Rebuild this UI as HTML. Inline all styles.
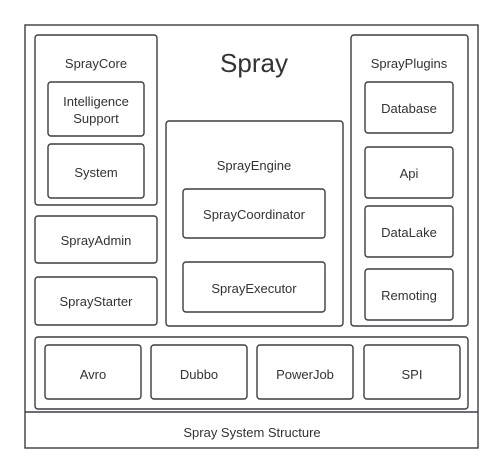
<!DOCTYPE html>
<html><head><style>body{margin:0;background:#fff}svg{display:block}</style></head><body>
<svg width="502" height="474" xmlns="http://www.w3.org/2000/svg" font-family="Liberation Sans, sans-serif" fill="none" stroke="#3a3d42" stroke-width="1.4">
<rect x="25" y="25" width="453" height="423"/>
<line x1="25" y1="412" x2="478" y2="412"/>
<g>
<rect x="35" y="35" width="122" height="170" rx="3"/>
<rect x="48" y="82" width="96" height="54" rx="3"/>
<rect x="48" y="144" width="96" height="54" rx="3"/>
<rect x="35" y="216" width="122" height="47" rx="3"/>
<rect x="35" y="277" width="122" height="48" rx="3"/>
<rect x="166" y="121" width="177" height="205" rx="3"/>
<rect x="183" y="189" width="142" height="49" rx="3"/>
<rect x="183" y="262" width="142" height="50" rx="3"/>
<rect x="351" y="35" width="117" height="291" rx="3"/>
<rect x="365" y="82" width="88" height="51" rx="3"/>
<rect x="365" y="147" width="88" height="51" rx="3"/>
<rect x="365" y="206" width="88" height="51" rx="3"/>
<rect x="365" y="269" width="88" height="51" rx="3"/>
<rect x="35" y="337" width="433" height="72" rx="3"/>
<rect x="45" y="345" width="96" height="54" rx="3"/>
<rect x="151" y="345" width="96" height="54" rx="3"/>
<rect x="257" y="345" width="96" height="54" rx="3"/>
<rect x="364" y="345" width="96" height="54" rx="3"/>
</g>
<g fill="#333" stroke="none" font-size="13" text-anchor="middle">
<text x="254" y="72" font-size="26">Spray</text>
<text x="96" y="68">SprayCore</text>
<text x="96" y="106">Intelligence</text>
<text x="96" y="123">Support</text>
<text x="96" y="177">System</text>
<text x="96" y="245">SprayAdmin</text>
<text x="96" y="306">SprayStarter</text>
<text x="254" y="170">SprayEngine</text>
<text x="254" y="219">SprayCoordinator</text>
<text x="254" y="293">SprayExecutor</text>
<text x="409" y="68">SprayPlugins</text>
<text x="409" y="113">Database</text>
<text x="409" y="178">Api</text>
<text x="409" y="237">DataLake</text>
<text x="409" y="300">Remoting</text>
<text x="93" y="379">Avro</text>
<text x="199" y="379">Dubbo</text>
<text x="305" y="379">PowerJob</text>
<text x="412" y="379">SPI</text>
<text x="252" y="437">Spray System Structure</text>
</g>
</svg>
</body></html>
